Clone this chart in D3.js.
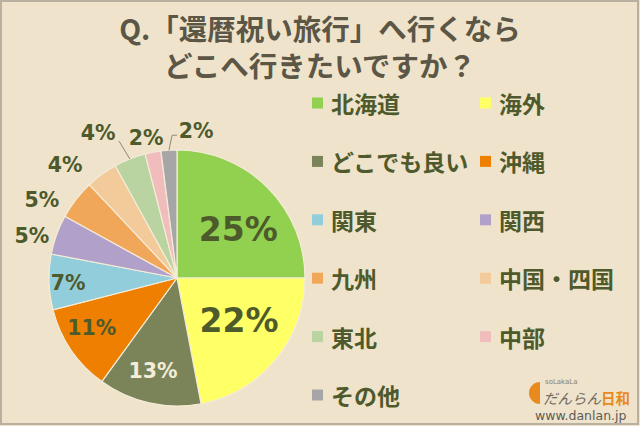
<!DOCTYPE html>
<html><head><meta charset="utf-8">
<script src="https://cdn.jsdelivr.net/npm/d3@7"></script>
<style>html,body{margin:0;padding:0;background:#EFE4CB;}svg{display:block;}</style>
</head><body><svg id="c" width="640" height="426"></svg>
<script>
const titleLines = ["Q.「還暦祝い旅行」へ行くなら", "どこへ行きたいですか？"];
const categories = ["北海道","海外","どこでも良い","沖縄","関東","関西","九州","中国・四国","東北","中部","その他"];
const values = [25,22,13,11,7,5,5,4,4,2,2];
const colors = ["#92D050","#FFFF66","#7B8459","#EE7F00","#92CDDC","#B1A0C9","#F1A75A","#F3CA9A","#B9D4A0","#F1BDBC","#A6A6A6"];

// layout (not data)
const cx = 177, cy = 278, R = 128;
const labelRadius = [78, 75, 96, 99, 109, 151, 156, 159, 165, 143, 148];
const labelShift  = [6.8, -5.5, 1.9, 3.7, -0.8, -3.6, -7.8, -8.7, -7, -1.7, 11];
const labelSize   = [33, 33, 20.5, 20.5, 20.5, 20.5, 20.5, 20.5, 20.5, 20.5, 20.5];
const leaders = {8: [[21, 8]], 10: [[-24, 4], [-19, 4]]};

const svg = d3.select("#c");
svg.append("rect").attr("x",1).attr("y",1).attr("width",637).attr("height",423)
  .attr("fill","#EFE4CB").attr("stroke","#B9B0A0").attr("stroke-width",2);

svg.selectAll("text.title").data(titleLines).join("text").attr("class","title")
  .attr("x",320).attr("y",(d,i)=>40+i*37).attr("text-anchor","middle")
  .attr("font-family","'Noto Sans CJK JP'").attr("font-weight",700).attr("font-size",28.5)
  .attr("fill","#5B5646").text(d=>d);

const pie = d3.pie().sort(null).value(d=>d);
const arcs = pie(values);
const arc = d3.arc().innerRadius(0).outerRadius(R);
const g = svg.append("g").attr("transform",`translate(${cx},${cy})`);
g.selectAll("path").data(arcs).join("path").attr("d",arc)
  .attr("fill",(d,i)=>colors[i]).attr("stroke","#F4ECD8").attr("stroke-width",1.2);

const toDeg = 180/Math.PI;
function polar(r, deg){ const a = deg/toDeg; return [r*Math.sin(a), -r*Math.cos(a)]; }
const labelPts = arcs.map((d,i)=>{
  const mid = (d.startAngle+d.endAngle)/2*toDeg;
  return polar(labelRadius[i], mid+labelShift[i]);
});

// leader lines
Object.entries(leaders).forEach(([k, pts])=>{
  const i = +k, d = arcs[i];
  const mid = (d.startAngle+d.endAngle)/2*toDeg;
  const start = polar(R, mid);
  const p = [start].concat(pts.map(o=>[labelPts[i][0]+o[0], labelPts[i][1]+o[1]]));
  g.append("path").attr("d", d3.line()(p)).attr("fill","none")
    .attr("stroke","#8E8878").attr("stroke-width",1);
});

g.selectAll("text.pct").data(arcs).join("text").attr("class","pct")
  .attr("x",(d,i)=>labelPts[i][0]).attr("y",(d,i)=>labelPts[i][1])
  .attr("text-anchor","middle").attr("dominant-baseline","central")
  .attr("font-family","'DejaVu Sans'").attr("font-weight",700)
  .attr("font-size",(d,i)=>labelSize[i])
  .attr("fill",(d,i)=> i===2 ? "#F3EDD9" : "#4D5A2B")
  .text(d=>d.data+"%");

// legend
const lg = svg.append("g");
const item = lg.selectAll("g").data(categories).join("g")
  .attr("transform",(d,i)=>`translate(${312 + (i%2)*168},${103 + Math.floor(i/2)*58.4})`);
item.append("rect").attr("x",0).attr("y",-5.5).attr("width",11).attr("height",11)
  .attr("fill",(d,i)=>colors[i]);
item.append("text").attr("x",19).attr("y",0).attr("dominant-baseline","central")
  .attr("font-family","'Noto Sans CJK JP'").attr("font-weight",700).attr("font-size",23)
  .attr("fill","#4F5A2C").text(d=>d);

// logo
const logo = svg.append("g");
logo.append("path").attr("d", d3.arc().innerRadius(0).outerRadius(11).startAngle(Math.PI).endAngle(2*Math.PI)())
  .attr("transform","translate(540,393)").attr("fill","#E98A1F");
logo.append("text").attr("x",545).attr("y",384).attr("font-family","'DejaVu Sans'")
  .attr("font-size",7).attr("fill","#8A7E6A").text("soLakaLa");
const t2 = logo.append("text").attr("x",543).attr("y",404).attr("font-family","'Noto Sans CJK JP'")
  .attr("font-size",14.5);
t2.append("tspan").attr("fill","#6E6A62").attr("font-style","italic").text("だんらん");
t2.append("tspan").attr("fill","#E98A1F").attr("font-weight",700).text("日和");
logo.append("text").attr("x",535).attr("y",420).attr("font-family","'DejaVu Sans'")
  .attr("font-size",12.5).attr("fill","#5E5A55").text("www.danlan.jp");
</script></body></html>
